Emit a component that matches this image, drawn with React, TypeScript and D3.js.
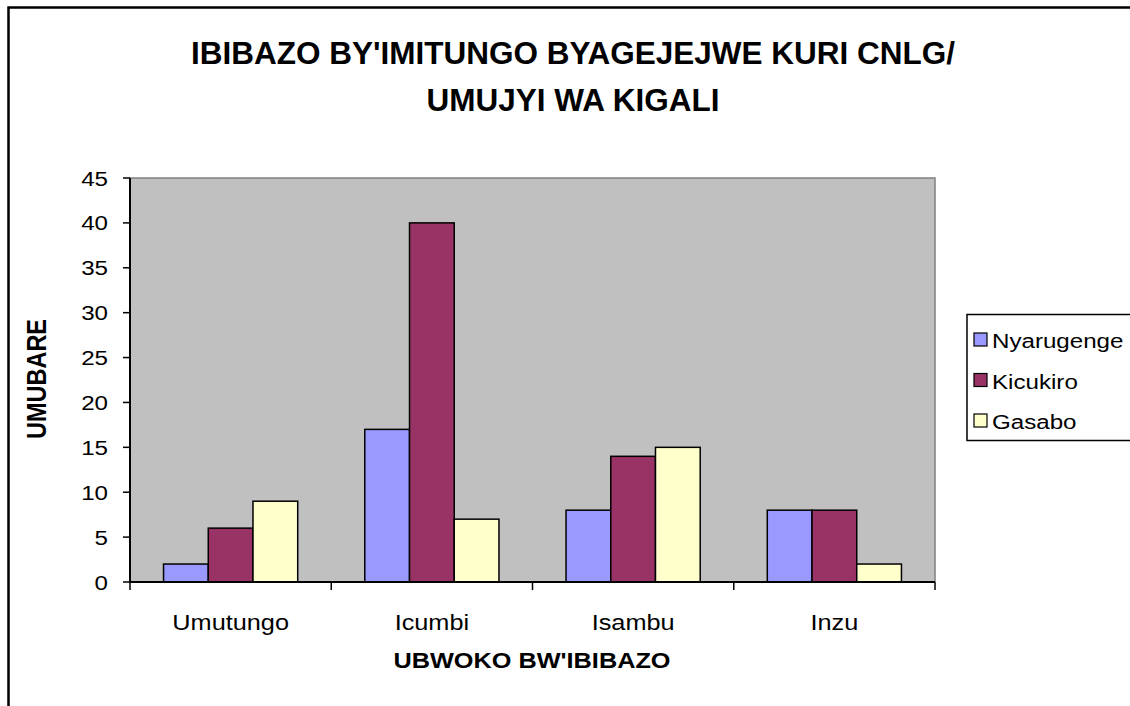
import React from "react";
import * as d3 from "d3";

const categories = ["Umutungo", "Icumbi", "Isambu", "Inzu"];
const seriesNames = ["Nyarugenge", "Kicukiro", "Gasabo"];
const nyarugenge = [2, 17, 8, 8];
const kicukiro = [6, 40, 14, 8];
const gasabo = [9, 7, 15, 2];
const yTicks = [0, 5, 10, 15, 20, 25, 30, 35, 40, 45];
const colors = ["#9999FF", "#993366", "#FFFFCC"];

const SX = 1.15;

function T(props: { x: number; y: number; size: number; anchor?: string; bold?: boolean; rotate?: number; children: React.ReactNode }) {
  const { x, y, size, anchor = "start", bold, rotate = 0, children } = props;
  return (
    <text transform={`translate(${x},${y}) scale(${SX},1) rotate(${rotate})`} textAnchor={anchor}
      fontSize={size} fontWeight={bold ? "bold" : "normal"}>{children}</text>
  );
}

export default function App() {
  const W = 1130, H = 706;
  const left = 130, right = 935, top = 178, bottom = 582;
  const series = [nyarugenge, kicukiro, gasabo];
  const x = d3.scaleBand().domain(categories).range([left, right]).paddingInner(0).paddingOuter(0);
  const bw = x.bandwidth() / 4.5;
  const y = d3.scaleLinear().domain([0, 45]).range([bottom, top]);
  const font = "Arial, 'Liberation Sans', sans-serif";
  const legX = 967;
  return (
    <svg width={W} height={H} style={{ position: "absolute", left: 0, top: 0, background: "#fff" }} fontFamily={font}>
      <rect x={8.5} y={7.5} width={1200} height={800} fill="#fff" stroke="#000" strokeWidth={2.5} />
      <text x={573} y={64} textAnchor="middle" fontSize={31.5} fontWeight="bold">IBIBAZO BY'IMITUNGO BYAGEJEJWE KURI CNLG/</text>
      <text x={573} y={111} textAnchor="middle" fontSize={31.5} fontWeight="bold">UMUJYI WA KIGALI</text>
      <rect x={left} y={top} width={right - left} height={bottom - top} fill="#C0C0C0" stroke="#808080" strokeWidth={1.5} />
      {categories.map((c, i) =>
        series.map((s, j) => (
          <rect key={c + j} x={(x(c) as number) + 0.75 * bw + j * bw} y={y(s[i])} width={bw} height={bottom - y(s[i])}
            fill={colors[j]} stroke="#000" strokeWidth={1.5} />
        ))
      )}
      <line x1={left} x2={left} y1={top} y2={bottom} stroke="#000" strokeWidth={2} />
      <line x1={left} x2={right} y1={bottom} y2={bottom} stroke="#000" strokeWidth={2} />
      {yTicks.map(t => (
        <g key={t}>
          <line x1={left - 7} x2={left} y1={y(t)} y2={y(t)} stroke="#000" strokeWidth={1.5} />
          <T x={left - 22} y={y(t) + 7.5} size={21} anchor="end">{t}</T>
        </g>
      ))}
      {[...categories.map(c => x(c) as number), right].map((v, i) => (
        <line key={i} x1={v} x2={v} y1={bottom} y2={bottom + 8} stroke="#000" strokeWidth={1.5} />
      ))}
      {categories.map(c => (
        <T key={c} x={(x(c) as number) + x.bandwidth() / 2} y={630} size={22} anchor="middle">{c}</T>
      ))}
      <T x={532} y={668} size={22} anchor="middle" bold>UBWOKO BW'IBIBAZO</T>
      <T x={46} y={379} size={23.5} anchor="middle" bold rotate={-90}>UMUBARE</T>
      <rect x={legX} y={314.5} width={300} height={126} fill="#fff" stroke="#000" strokeWidth={1.5} />
      {seriesNames.map((n, j) => (
        <g key={n}>
          <rect x={legX + 7} y={333 + j * 40.5} width={13} height={13} fill={colors[j]} stroke="#000" strokeWidth={1.2} />
          <T x={legX + 25} y={348 + j * 40.5} size={21}>{n}</T>
        </g>
      ))}
    </svg>
  );
}
